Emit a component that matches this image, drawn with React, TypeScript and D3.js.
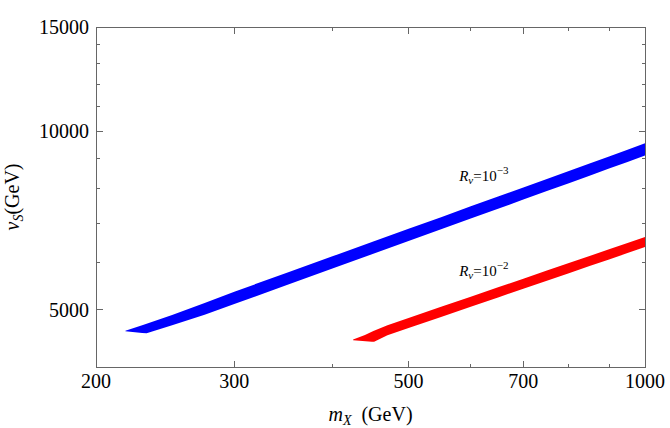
import React, { useEffect, useRef } from "react";
import * as d3 from "d3";

// axis ticks
const xMajor = [200, 300, 500, 700, 1000];
const xMinor = [400, 600, 800, 900];
const yMajor = [5000, 10000, 15000];
const yMinor = [6000, 7000, 8000, 9000, 11000, 12000, 13000, 14000];

// band edges, [mX, vS] in GeV
const blueUpper = [
  [218, 4605], [230, 4715], [250, 4895], [275, 5130], [300, 5360], [350, 5770],
  [400, 6150], [450, 6510], [500, 6845], [550, 7160], [600, 7470], [650, 7760],
  [700, 8040], [750, 8310], [800, 8570], [850, 8820], [900, 9070], [950, 9310],
  [1000, 9545],
];
const blueLower = [
  [218, 4595], [229, 4565], [232, 4560], [250, 4705], [275, 4900], [300, 5110],
  [350, 5500], [400, 5865], [450, 6205], [500, 6525], [550, 6830], [600, 7125],
  [650, 7400], [700, 7670], [750, 7925], [800, 8175], [850, 8415], [900, 8650],
  [950, 8875], [1000, 9100],
];
const redUpper = [
  [425, 4452], [440, 4530], [451, 4600], [470, 4705], [500, 4840], [550, 5054],
  [600, 5257], [650, 5452], [700, 5638], [750, 5818], [800, 5991], [850, 6158],
  [900, 6320], [950, 6477], [1000, 6630],
];
const redLower = [
  [425, 4440], [449, 4414], [452, 4412], [470, 4524], [500, 4654], [550, 4860],
  [600, 5055], [650, 5242], [700, 5422], [750, 5594], [800, 5761], [850, 5922],
  [900, 6077], [950, 6228], [1000, 6375],
];

const labels = [
  { m: 580, v: 8250, exp: "\u22123" },
  { m: 580, v: 5700, exp: "\u22122" },
];

const FONT = "'Liberation Serif', 'Times New Roman', serif";

export default function App() {
  const ref = useRef<SVGSVGElement>(null);

  useEffect(() => {
    const svg = d3.select(ref.current);
    svg.selectAll("*").remove();

    const x = d3.scaleLog().domain([200, 1000]).range([96, 645]);
    const y = d3.scaleLog().domain([4000, 15000]).range([367, 27]);
    const [x0, x1] = x.range();
    const [y0, y1] = y.range();

    const line = d3
      .line<number[]>()
      .x((d) => x(d[0]))
      .y((d) => y(d[1]));
    const band = (up: number[][], lo: number[][]) =>
      line([...up, ...lo.slice().reverse()]) + "Z";

    svg.append("defs").append("clipPath").attr("id", "plot")
      .append("rect").attr("x", x0).attr("y", y1)
      .attr("width", x1 - x0).attr("height", y0 - y1);

    const g = svg.append("g").attr("clip-path", "url(#plot)");
    g.append("path").attr("d", band(blueUpper, blueLower)).attr("fill", "#0000ff");
    g.append("path").attr("d", band(redUpper, redLower)).attr("fill", "#ff0000");

    // frame
    svg.append("rect")
      .attr("x", x0).attr("y", y1)
      .attr("width", x1 - x0).attr("height", y0 - y1)
      .attr("fill", "none").attr("stroke", "#666").attr("stroke-width", 1)
      .attr("shape-rendering", "crispEdges");

    const ticks = svg.append("g").attr("stroke", "#666").attr("stroke-width", 1)
      .attr("shape-rendering", "crispEdges");
    const xt = (vals: number[], len: number) => {
      vals.forEach((v) => {
        ticks.append("line").attr("x1", x(v)).attr("x2", x(v)).attr("y1", y0).attr("y2", y0 - len);
        ticks.append("line").attr("x1", x(v)).attr("x2", x(v)).attr("y1", y1).attr("y2", y1 + len);
      });
    };
    const yt = (vals: number[], len: number) => {
      vals.forEach((v) => {
        ticks.append("line").attr("y1", y(v)).attr("y2", y(v)).attr("x1", x0).attr("x2", x0 + len);
        ticks.append("line").attr("y1", y(v)).attr("y2", y(v)).attr("x1", x1).attr("x2", x1 - len);
      });
    };
    xt(xMajor, 6.5);
    xt(xMinor, 3.5);
    yt(yMajor, 6.5);
    yt(yMinor, 3.5);

    // tick labels
    svg.append("g").selectAll("text").data(xMajor).enter().append("text")
      .attr("x", (d) => x(d)).attr("y", 388)
      .attr("text-anchor", "middle")
      .attr("font-family", FONT).attr("font-size", 20)
      .text((d) => d);
    svg.append("g").selectAll("text").data(yMajor).enter().append("text")
      .attr("x", 89).attr("y", (d) => y(d) + 7)
      .attr("text-anchor", "end")
      .attr("font-family", FONT).attr("font-size", 20)
      .text((d) => d);

    // axis titles
    const xl = svg.append("text")
      .attr("x", (x0 + x1) / 2).attr("y", 421)
      .attr("text-anchor", "middle")
      .attr("font-family", FONT).attr("font-size", 20);
    xl.append("tspan").attr("font-style", "italic").text("m");
    xl.append("tspan").attr("font-style", "italic").attr("font-size", 14).attr("dy", 4).text("X");
    xl.append("tspan").attr("dy", -4).text("\u2002(GeV)");

    const yl = svg.append("text")
      .attr("transform", `translate(19,${(y0 + y1) / 2}) rotate(-90)`)
      .attr("text-anchor", "middle")
      .attr("font-family", FONT).attr("font-size", 20);
    yl.append("tspan").attr("font-style", "italic").text("v");
    yl.append("tspan").attr("font-style", "italic").attr("font-size", 14).attr("dy", 4).text("S");
    yl.append("tspan").attr("dy", -4).text("(GeV)");

    // band labels
    labels.forEach((l) => {
      const t = svg.append("text")
        .attr("x", x(l.m)).attr("y", y(l.v))
        .attr("font-family", FONT).attr("font-size", 15);
      t.append("tspan").attr("font-style", "italic").text("R");
      t.append("tspan").attr("font-style", "italic").attr("font-size", 11).attr("dy", 3).text("v");
      t.append("tspan").attr("dy", -3).text("=10");
      t.append("tspan").attr("font-size", 11).attr("dy", -7).text(l.exp);
    });
  }, []);

  return (
    <svg
      ref={ref}
      width={670}
      height={428}
      style={{ position: "absolute", left: 0, top: 0, background: "#fff" }}
    />
  );
}
